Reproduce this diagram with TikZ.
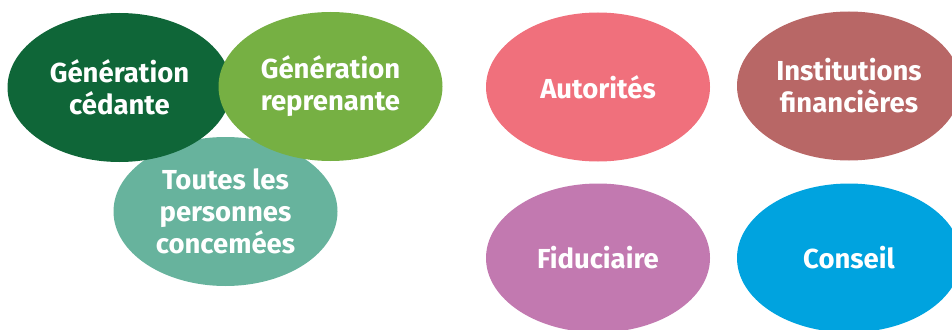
\documentclass[tikz,border=0pt]{standalone}
\usepackage{fontspec}
\setmainfont{Fira Sans}
\usetikzlibrary{shapes.geometric}

\definecolor{cedante}{HTML}{0F6638}
\definecolor{reprenante}{HTML}{76B043}
\definecolor{personnes}{HTML}{67B39D}
\definecolor{autorites}{HTML}{F0707C}
\definecolor{institutions}{HTML}{B86766}
\definecolor{fiduciaire}{HTML}{C279B0}
\definecolor{conseil}{HTML}{00A3DF}

\tikzset{
  bubble/.style={ellipse, fill=#1, text=white, inner sep=0pt,
    minimum width=224pt, minimum height=149pt, align=center,
    font=\fontsize{27.5}{32}\selectfont\bfseries}
}

\begin{document}
\begin{tikzpicture}[x=1pt,y=1pt]
            \useasboundingbox (0,0) rectangle (952,-329);
            \clip (0,0) rectangle (952,-329);
            % partie gauche
            \node[bubble=personnes] (toutes) at (225.5,-211.5) {Toutes les\\personnes\\concemées};
            \node[bubble=cedante] (cedante) at (119.5,-87.5) {Génération\\cédante};
            \node[bubble=reprenante] (reprenante) at (330.5,-86.5) {Génération\\reprenante};
            % partie droite
            \node[bubble=autorites] (autorites) at (598,-87) {Autorités};
            \node[bubble=institutions] (institutions) at (849,-86) {Institutions\\financières};
            \node[bubble=fiduciaire] (fiduciaire) at (598,-258) {Fiduciaire};
            \node[bubble=conseil] (conseil) at (849,-258) {Conseil};
        \end{tikzpicture}
\end{document}
